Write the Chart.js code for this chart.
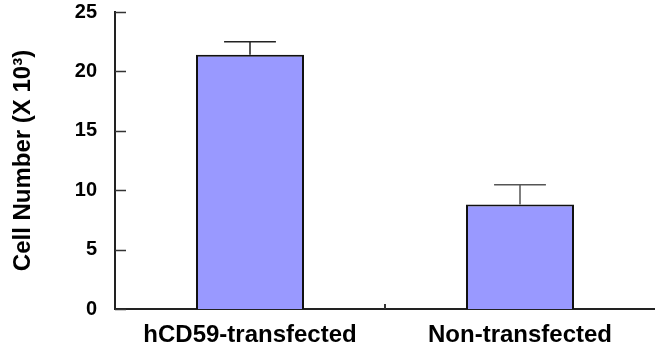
<!DOCTYPE html>
<html>
<head>
<meta charset="utf-8">
<script src="https://cdn.jsdelivr.net/npm/chart.js@4.4.1/dist/chart.umd.min.js"></script>
<style>
  html, body { margin: 0; padding: 0; background: #ffffff; }
  #wrap { width: 655px; height: 351px; }
</style>
</head>
<body>
<div id="wrap"><canvas id="chart" width="655" height="351"></canvas></div>
<script>
// Cell counts (thousands) with upper standard-error bars
const groups = ['hCD59-transfected', 'Non-transfected'];
const cellCounts = [21.4, 8.8];
const cellErrors = [1.1, 1.65];
const errorColors = ['#222222', '#555555'];
const yTicks = [0, 5, 10, 15, 20, 25];

const FONT = '"Liberation Sans", Arial, sans-serif';

// Inward tick marks, the group divider tick and the error bars
const decor = {
  id: 'decor',
  afterDatasetsDraw(chart) {
    const { ctx, scales: { x, y }, chartArea } = chart;
    ctx.save();

    // error bars
    const meta = chart.getDatasetMeta(0);
    meta.data.forEach((bar, i) => {
      const top = y.getPixelForValue(cellCounts[i] + cellErrors[i]);
      const half = bar.width * 0.24;
      ctx.strokeStyle = errorColors[i];
      ctx.lineWidth = 1.5;
      ctx.beginPath();
      ctx.moveTo(bar.x, bar.y);
      ctx.lineTo(bar.x, top);
      ctx.moveTo(bar.x - half, top);
      ctx.lineTo(bar.x + half, top);
      ctx.stroke();
    });

    // y ticks pointing into the plot
    ctx.strokeStyle = '#333333';
    ctx.lineWidth = 1.5;
    ctx.beginPath();
    y.ticks.forEach(t => {
      const py = Math.round(y.getPixelForValue(t.value)) + 0.5;
      ctx.moveTo(chartArea.left, py);
      ctx.lineTo(chartArea.left + 11, py);
    });
    ctx.stroke();

    // small tick between the two groups
    const mid = (x.getPixelForValue(0) + x.getPixelForValue(1)) / 2;
    ctx.lineWidth = 2;
    ctx.beginPath();
    ctx.moveTo(mid, chartArea.bottom);
    ctx.lineTo(mid, chartArea.bottom - 5);
    ctx.stroke();

    ctx.restore();
  }
};

new Chart(document.getElementById('chart'), {
  type: 'bar',
  data: {
    labels: groups,
    datasets: [{
      data: cellCounts,
      backgroundColor: '#9999ff',
      borderColor: '#111111',
      borderWidth: 2,
      barPercentage: 0.4,
      categoryPercentage: 1.0
    }]
  },
  options: {
    responsive: false,
    devicePixelRatio: 1,
    animation: false,
    layout: { padding: { top: 12, right: 0, bottom: 0, left: 0 } },
    plugins: {
      legend: { display: false },
      tooltip: { enabled: false }
    },
    scales: {
      x: {
        offset: true,
        grid: { display: false, drawTicks: false },
        border: { display: true, color: '#222222', width: 2 },
        ticks: {
          color: '#000000',
          padding: 12,
          font: { family: FONT, size: 24, weight: 'bold' }
        },
        afterFit(scale) { scale.height = 42; scale.paddingLeft = 0; scale.paddingRight = 0; }
      },
      y: {
        min: 0,
        max: 25,
        afterBuildTicks(scale) { scale.ticks = yTicks.map(v => ({ value: v })); },
        grid: { display: false, drawTicks: false },
        border: { display: true, color: '#222222', width: 2 },
        ticks: {
          color: '#000000',
          padding: 18,
          font: { family: FONT, size: 20, weight: 'bold' }
        },
        title: {
          display: true,
          text: 'Cell Number (X 10³)',
          color: '#000000',
          padding: { top: 9, bottom: 0 },
          font: { family: FONT, size: 24, weight: 'bold' }
        },
        afterFit(scale) { scale.width = 115; scale.paddingTop = 0; scale.paddingBottom = 0; }
      }
    }
  },
  plugins: [decor]
});
</script>
</body>
</html>
